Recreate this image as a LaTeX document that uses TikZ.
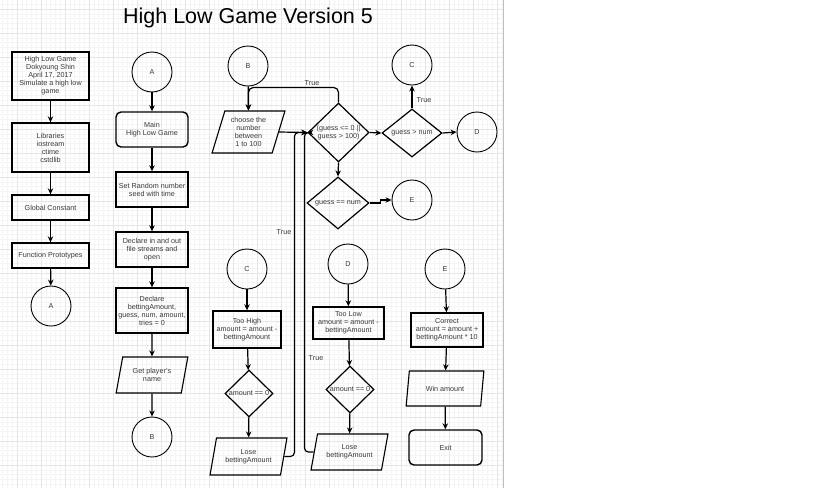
\documentclass[tikz,border=0pt]{standalone}
\usepackage{fontspec}
\setmainfont{Liberation Sans}
\usetikzlibrary{shapes.geometric,arrows.meta}
\definecolor{txt}{HTML}{3A3A3A}
\definecolor{minorg}{HTML}{F5F5F5}
\definecolor{majorg}{HTML}{E6E6E6}
\begin{document}
\begin{tikzpicture}[x=1pt,y=-1pt,
  every node/.style={font=\fontsize{7.2}{8}\selectfont, text=txt, align=center, inner sep=0pt},
  box/.style={draw=black, line width=1.4pt, rectangle},
  rbox/.style={box, rounded corners=5pt},
  circ/.style={draw=black, line width=0.9pt, circle, minimum size=40pt},
  dia/.style={draw=black, line width=1.2pt, diamond},
  para/.style={draw=black, line width=1.1pt, trapezium, trapezium left angle=72, trapezium right angle=108, trapezium stretches=true},
  arr/.style={draw=black, line width=1.2pt, -{Stealth[length=6pt,width=5.5pt]}},
  lbl/.style={font=\fontsize{7.2}{8}\selectfont, text=txt},
  minorgrid/.style={draw=minorg, line width=0.5pt},
  majorgrid/.style={draw=majorg, line width=0.6pt}
]
\useasboundingbox (0,0) rectangle (816,488);
\fill[white] (0,0) rectangle (816,488);
% grid
\foreach \k in {-3,...,101} \draw[minorgrid] ({17+4.8*\k},0) -- ({17+4.8*\k},488);
\foreach \k in {-1,...,99} \draw[minorgrid] (0,{9+4.8*\k}) -- (503,{9+4.8*\k});
\foreach \k in {0,...,20} \draw[majorgrid] ({17+24*\k},0) -- ({17+24*\k},488);
\foreach \k in {0,...,19} \draw[majorgrid] (0,{9+24*\k}) -- (503,{9+24*\k});
\draw[draw=black!25, line width=1pt] (503,0) -- (503,488);

% title
\node[font=\fontsize{21.5}{24}\selectfont, text=black, anchor=base] (title) at (248,23) {High Low Game Version 5};

% column 1
\node[box, minimum width=77pt, minimum height=48pt] (hdr) at (50.5,76) {High Low Game\\Dokyoung Shin\\April 17, 2017\\Simulate a high low\\game};
\node[box, minimum width=77pt, minimum height=49pt] (lib) at (50.5,147.5) {Libraries\\iostream\\ctime\\cstdlib};
\node[box, minimum width=77pt, minimum height=25pt] (glob) at (50.5,207.5) {Global Constant};
\node[box, minimum width=77pt, minimum height=25pt] (func) at (50.5,255.5) {Function Prototypes};
\node[circ] (A1) at (51,306) {A};

% column 2
\node[circ] (A2) at (152,72) {A};
\node[rbox, minimum width=72pt, minimum height=35pt] (main) at (152,129.5) {Main\\High Low Game};
\node[box, minimum width=72pt, minimum height=35pt] (seed) at (152,189.5) {Set Random number\\seed with time};
\node[box, minimum width=72pt, minimum height=35pt] (declio) at (152,249.5) {Declare in and out\\file streams and\\open};
\node[box, minimum width=72pt, minimum height=45pt] (declvar) at (152,310.5) {Declare\\bettingAmount,\\guess, num, amount,\\tries = 0};
\node[para, minimum width=72pt, minimum height=36pt] (name) at (152,375) {Get player's\\name};
\node[circ] (B1) at (152,437) {B};

% top right
\node[circ] (B2) at (248,66) {B};
\node[para, minimum width=73pt, minimum height=42pt] (choose) at (248.5,132) {choose the\\number\\between\\1 to 100};
\node[dia, minimum width=61pt, minimum height=59pt, label={center:{(guess <= 0 ||\\guess > 100)}}] (d1) at (338.5,132.5) {};
\node[dia, minimum width=60pt, minimum height=48pt, label={center:{guess > num}}] (d2) at (412,133) {};
\node[circ] (C1) at (412,65) {C};
\node[circ] (D1) at (477,132) {D};
\node[dia, minimum width=62pt, minimum height=52pt, label={center:{guess == num}}] (d3) at (338,203) {};
\node[circ] (E1) at (412,200) {E};

% lower C
\node[circ] (C2) at (247,269) {C};
\node[box, minimum width=68pt, minimum height=37pt] (toohigh) at (247,329.5) {Too High\\amount = amount -\\bettingAmount};
\node[dia, minimum width=48pt, minimum height=47pt, label={center:{amount == 0}}] (amt1) at (249,393.5) {};
\node[para, minimum width=77pt, minimum height=37pt] (lose1) at (248.5,456.5) {Lose\\bettingAmount};

% lower D
\node[circ] (D2) at (348,264) {D};
\node[box, minimum width=71pt, minimum height=32pt] (toolow) at (348.5,323) {Too Low\\amount = amount -\\bettingAmount};
\node[dia, minimum width=48pt, minimum height=47pt, label={center:{amount == 0}}] (amt2) at (350,389.5) {};
\node[para, minimum width=77pt, minimum height=36pt] (lose2) at (349.5,452) {Lose\\bettingAmount};

% lower E
\node[circ] (E2) at (445,269) {E};
\node[box, minimum width=72pt, minimum height=34pt] (correct) at (447,330) {Correct\\amount = amount +\\bettingAmount * 10};
\node[para, minimum width=78pt, minimum height=35pt] (win) at (445,388.5) {Win amount};
\node[rbox, minimum width=73pt, minimum height=35pt] (exit) at (445.5,447.5) {Exit};

% labels
\node[lbl] (t1) at (312,83) {True};
\node[lbl] (t2) at (424,100) {True};
\node[lbl] (t3) at (284,232) {True};
\node[lbl] (t4) at (316,358) {True};

% connectors column 1
\draw[arr] (hdr) -- (lib);
\draw[arr] (lib) -- (glob);
\draw[arr] (glob) -- (func);
\draw[arr] (func) -- (A1);
% column 2
\draw[arr] (A2) -- (main);
\draw[arr] (main) -- (seed);
\draw[arr] (seed) -- (declio);
\draw[arr] (declio) -- (declvar);
\draw[arr] (declvar) -- (name);
\draw[arr] (name) -- (B1);
% top right
\draw[arr] (B2) -- (choose);
\draw[arr, rounded corners=5pt] (d1.north) -- ++(0,-15) -| (choose.north);
\draw[arr] (choose.east) -- (d1.west);
\draw[arr] (d1.east) -- (d2.west);
\draw[arr] (d2.north) -- (C1.south);
\draw[arr] (d2.east) -- (D1.west);
\draw[arr] (d1.south) -- (d3.north);
\draw[arr] (d3.east) -- ++(11,0) |- (E1.west);
% lower
\draw[arr] (C2) -- (toohigh);
\draw[arr] (toohigh) -- (amt1);
\draw[arr] (amt1) -- (lose1);
\draw[arr] (D2) -- (toolow);
\draw[arr] (toolow) -- (amt2);
\draw[arr] (amt2) -- (lose2);
\draw[arr] (E2) -- (correct);
\draw[arr] (correct) -- (win);
\draw[arr] (win) -- (exit);
% loops back
\draw[arr] (lose1.east) [rounded corners=4pt] -| ([xshift=-13pt]d1.west) [sharp corners] -- (d1.west);
\draw[arr] (lose2.west) [rounded corners=4pt] -| ([xshift=-3pt]d1.west) [sharp corners] -- (d1.west);
\end{tikzpicture}
\end{document}
